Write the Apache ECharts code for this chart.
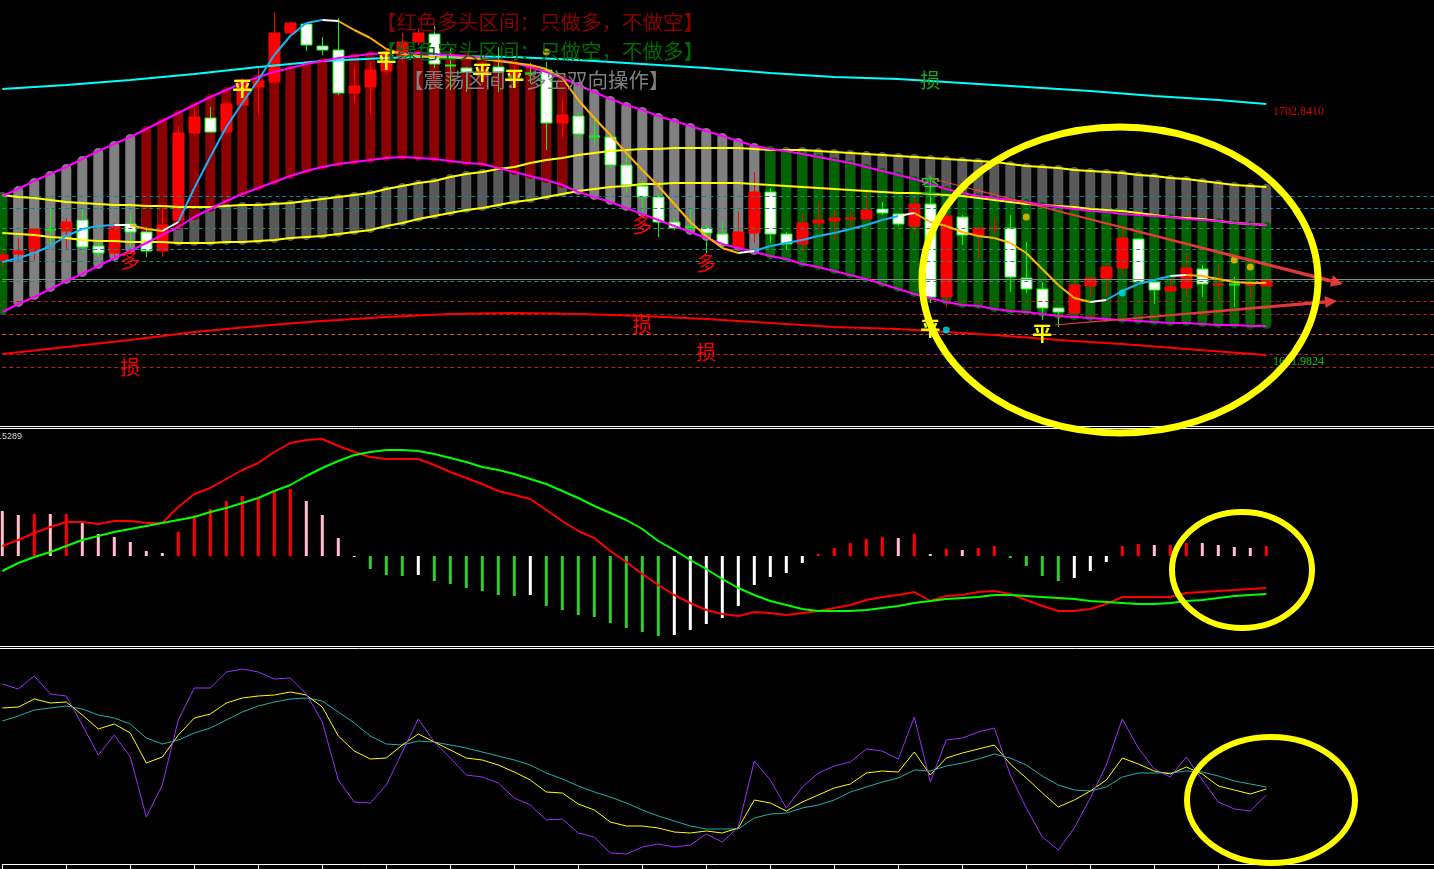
<!DOCTYPE html>
<html><head><meta charset="utf-8">
<script src="https://cdn.jsdelivr.net/npm/echarts@6/dist/echarts.min.js"></script>
<style>html,body{margin:0;padding:0;background:#000;}#c{width:1434px;height:869px;}</style>
</head><body><div id="c"></div>
<script>
// ---------- DATA (prices) ----------
const candles = [ // [open, close, low, high]
[1663,1664.25,1661.25,1665.5],[1664.5,1665.25,1663,1668.5],[1665.25,1670.75,1663,1670.75],[1670.75,1670.5,1666.25,1676.25],
[1670.25,1672.5,1665.5,1673.5],[1673,1666.25,1664.75,1676],[1666.5,1664.75,1663.75,1668],[1664.75,1671.25,1663.75,1672.25],
[1672,1670,1666.25,1674.75],[1670,1665.25,1663.75,1671.25],[1665.25,1671.75,1663.75,1676.75],[1673,1694.75,1672.25,1696.5],
[1694.75,1698.75,1694.25,1701],[1698.5,1695,1694.75,1701.25],[1695,1702,1694.5,1702.5],[1701.75,1708,1701.5,1708.5],
[1706.25,1707.75,1699.25,1711.25],[1707.5,1719.75,1707.5,1725],[1719.75,1722.25,1718.75,1722.5],[1722,1716.75,1715.25,1722],
[1716.5,1715.5,1714.25,1718.75],[1715.5,1704.75,1704.25,1723.5],[1704.75,1706.5,1702.25,1711.25],[1706.25,1710.5,1699.25,1712.5],
[1710.25,1714.75,1709.75,1715.5],[1713.5,1717.5,1712.25,1719.75],[1717.5,1719.75,1716.75,1721],[1719.5,1712,1711,1721.5],
[1711.75,1711.5,1705.5,1716],[1711,1710,1705,1711.25],[1709,1710.5,1706.75,1712.5],[1711.25,1710,1705,1716.25],
[1708.75,1710,1706.75,1711.75],[1709.75,1709.5,1707.25,1712.25],[1710.5,1697.25,1690.5,1712.5],[1697.25,1699.25,1693.75,1703],
[1699,1694.5,1693.25,1700],[1694,1693.75,1691.75,1698],[1693.75,1686.75,1686,1694.75],[1686.75,1681.75,1680,1689.25],
[1681.5,1678.75,1675,1683],[1678.75,1672.5,1668.75,1679.75],[1672.5,1671,1670.5,1673.5],[1671.25,1671,1670.5,1676],
[1671,1669.75,1664.75,1671.75],[1669.5,1666.75,1666.25,1672.5],[1666,1670,1666,1675.25],[1669.75,1680,1667.25,1685],
[1680,1669.5,1667.25,1681],[1669.5,1667,1665.5,1670],[1667,1672.25,1665,1674.5],[1672.25,1673,1670.5,1677.5],
[1672.75,1673.5,1668,1675.5],[1673.25,1673.5,1671,1675],[1673.25,1675.5,1673.25,1680],[1675.75,1674.75,1674.25,1677.5],
[1674.5,1672,1671.5,1674.75],[1671.5,1677,1669.75,1678.75],[1677,1653.75,1652.25,1683],[1653.75,1674,1651,1674.75],
[1673.75,1669.25,1666.75,1674.25],[1669.25,1671,1663,1671.25],[1670.75,1671,1669.25,1673.5],[1671,1658.75,1655,1674.25],
[1658.5,1655.75,1654.75,1667.5],[1655.75,1651,1648,1657.5],[1651,1650,1646.25,1651],[1649.75,1656.75,1649.75,1657.5],
[1656.5,1658.5,1653.75,1658.75],[1658.5,1661.25,1653.75,1662.25],[1661,1668.5,1659.25,1671],[1668.25,1657.5,1657.5,1668.5],
[1657.5,1655.5,1652,1658],[1655.25,1656.25,1655,1658.5],[1656,1661,1653.75,1664.75],[1660.75,1657,1653.75,1661.75],
[1656.75,1657,1653,1661.75],[1657,1656.75,1651.25,1658.75],[1656.75,1657,1653.25,1657.5],[1656.5,1658,1656.5,1658.75]
];
const bandUpper = [1679,1680.75,1682.75,1684.5,1686.25,1688.25,1690.25,1692,1693.75,1695.75,1697.75,1699.75,1701.75,1703.75,1705.5,1707.25,1708.75,1710,1711,1712,
1712.75,1713.5,1714,1714.5,1714.75,1714.75,1714.75,1714.5,1714.25,1714,1713.5,1713,1712.25,1711.25,1710,1708.5,1706.75,1705,1703.25,1701.75,
1700.5,1699,1697.75,1696.5,1695.25,1694,1692.75,1691.5,1690.75,1690.25,1689.5,1688.75,1688,1687.25,1686.25,1685.25,1684.25,1683.25,1682,1680.75,
1679.75,1679,1678.5,1678,1677.5,1676.75,1676.25,1675.75,1675.25,1675,1674.5,1674.25,1674,1673.75,1673.25,1673,1672.75,1672.25,1672,1671.75];
const bandLower = [1650,1652,1653.75,1655.75,1657.75,1659.5,1661.5,1663.5,1665.25,1667.25,1669.25,1671.25,1673.75,1675.75,1677.75,1679.5,1681,1682.5,1684,1685.25,
1686.25,1687,1687.5,1688,1688.5,1688.75,1688.5,1688.25,1687.75,1687.25,1687,1686,1685,1684,1683,1681.75,1680,1678.75,1677.5,1676,
1674.5,1673,1671.5,1670,1668.5,1667,1666,1665,1664,1663.25,1662,1661.25,1660.25,1659.25,1658.25,1657,1655.75,1654.5,1653.5,1652.5,
1651.75,1651.5,1650.75,1650.25,1650,1649.5,1649,1648.75,1648.5,1648.25,1648,1647.75,1647.5,1647.25,1647.25,1647,1646.75,1646.75,1646.5,1646.5];
const envUpper = [1679.25,1678.75,1678.5,1678,1677.5,1677.25,1677,1676.75,1676.75,1676.5,1676.5,1676.25,1676.25,1676.25,1676.5,1676.75,1676.75,1677,1677.25,1677.75,
1678.25,1678.75,1679.25,1679.75,1680.75,1681.5,1682.25,1682.75,1683.75,1684.5,1685,1685.75,1686.25,1687.25,1688,1688.5,1689.25,1689.75,1690.25,1690.5,
1690.75,1690.75,1691,1691,1691,1691,1691,1690.75,1690.5,1690.5,1690.5,1690.25,1690,1689.75,1689.5,1689.25,1689,1688.75,1688.5,1688.25,
1688,1687.75,1687.5,1687,1686.5,1686.25,1686,1685.5,1685.25,1685,1684.75,1684.25,1684,1683.5,1683.25,1682.75,1682.25,1681.75,1681.5,1681.25];
const envLower = [1669.75,1669.5,1669.25,1668.75,1668.5,1668,1667.75,1667.75,1667.5,1667.5,1667.5,1667.25,1667.25,1667.25,1667.5,1667.5,1667.75,1668,1668.5,1668.75,
1669,1669.5,1670,1670.5,1671.5,1672.25,1673.25,1674,1674.75,1675.5,1676,1676.75,1677.5,1678,1678.75,1679.5,1680.25,1680.75,1681.25,1681.5,
1682,1682,1682.25,1682.25,1682.25,1682.25,1682.25,1682,1681.75,1681.5,1681.25,1681,1680.75,1680.5,1680.25,1680,1679.75,1679.75,1679.5,1679.25,
1679,1678.5,1678,1677.5,1677,1676.75,1676.5,1676.25,1675.75,1675.5,1675.25,1674.75,1674.25,1673.75,1673.5,1673.25,1672.75,1672.25,1672,1671.75];
// zone of each bar: g = bear (green), l = range (grey), r = bull (dark red)
const zones = "g" + "llllllll" + "rrrrrrrrrrrrrrrrrrrrrrrrrrr" + "llllllllllll" + "gggggggggggggggggggggggggggggggg";
const fastLine = [1662.5,1663.5,1664.75,1666.5,1669,1670.75,1671.5,1671.75,1671.75,1670.75,1670.25,1672.5,1681,1688.75,1696.25,1702.25,1708,1714.25,1719,1722.25,
1723,1722.75,1720.5,1718.5,1715.75,1714.5,1714,1713.75,1713.5,1713.5,1713.25,1712.75,1712.25,1711.75,1710.75,1708.5,1703,1698.5,1694.25,1689.75,
1685.5,1681.5,1677,1672.5,1669,1666,1664.75,1665.25,1666.5,1667.25,1668,1669,1669.75,1670.75,1671.75,1673,1674,1674.75,1672.5,1671.5,
1670,1669,1668.5,1667.25,1664.75,1660.75,1656.75,1653.5,1652.5,1653,1655.25,1657,1658,1659,1659.25,1659,1658.25,1657.5,1657.25,1657.25];
// colour of the segment ending at each bar: c = rising, w = turning, o = falling
const fastColors = "cccccccc" + "w" + "oo" + "w" + "ccccccccc" + "w" + "ooooooooooooooooooooooooo" + "w" + "ccccccccc" + "w" + "ooooooooooo" + "w" + "cccc" + "w" + "ooooo";
const cyanLine = [[0,1705.75],[4,1706.75],[8,1708],[12,1709.5],[16,1711.25],[20,1712.75],[24,1713.5],[28,1714],[32,1713.75],[36,1713],[40,1712],
[44,1711],[48,1709.75],[52,1708.75],[56,1708.25],[60,1707.25],[64,1706.25],[68,1705.25],[72,1704],[76,1703],[79,1702]];
const redLine = [[0,1639.5],[4,1641.25],[8,1643],[12,1645],[16,1646.5],[20,1647.75],[24,1648.75],[28,1649.5],[32,1649.75],[36,1649.5],[40,1649],
[44,1648.25],[48,1647.25],[52,1646.25],[56,1645.75],[58,1645.25],[62,1644.25],[66,1643],[70,1642],[74,1640.75],[79,1639.25]];
const levels = [[1679,'#0a8c8c','dashed'],[1676,'#0a8c8c','dashed'],[1671,'#2e8b57','dashed'],[1665.75,'#0a8c8c','dashed'],[1662.75,'#0a8c8c','dashed'],
[1658.25,'#8a8a8a','solid'],[1657.75,'#2e8b57','dashed'],[1652.75,'#b22222','dashed'],[1649.5,'#b22222','dashed'],[1644.5,'#cd5a32','dashed'],
[1639.5,'#b22222','dashed'],[1636.25,'#b22222','dashed']];
const markers = [ // [bar, price, text, colour]
[15,1706,'平','#ffff00'],[24,1713,'平','#ffff00'],[30,1710,'平','#ffff00'],[32,1708.5,'平','#ffff00'],[58,1646,'平','#ffff00'],[65,1644.75,'平','#ffff00'],
[8,1663,'多','#ff0000'],[40,1671.75,'多','#ff0000'],[44,1662.25,'多','#ff0000'],
[8,1636.25,'损','#ff0000'],[40,1646.75,'损','#ff0000'],[44,1640,'损','#ff0000'],
[58,1708,'损','#1fa31f'],[58,1681.75,'空','#22cc22']];
const dots = [[34,1715,'#ffc000'],[64,1673.75,'#ffc000'],[77,1663,'#ffc000'],[78,1661.25,'#ffc000'],[59,1645.5,'#00e0ee'],[70,1654.75,'#00e0ee']];
const titleLines = ['【红色多头区间：只做多，不做空】','【绿色空头区间：只做空，不做多】','【震荡区间：多空双向操作】'];
const priceLabels = ['1702.8410','1641.9824'];

const macdHist = [0.45,0.41,0.42,0.42,0.42,0.33,0.22,0.19,0.14,0.05,0.03,0.24,0.41,0.47,0.55,0.60,0.58,0.66,0.67,0.55,
0.41,0.18,-0.01,-0.13,-0.19,-0.20,-0.19,-0.25,-0.28,-0.32,-0.35,-0.39,-0.40,-0.39,-0.50,-0.54,-0.59,-0.61,-0.67,-0.72,
-0.76,-0.80,-0.79,-0.74,-0.68,-0.62,-0.50,-0.29,-0.21,-0.17,-0.07,0.02,0.08,0.13,0.17,0.19,0.18,0.22,0.02,0.07,
0.06,0.08,0.10,-0.02,-0.10,-0.20,-0.25,-0.22,-0.15,-0.06,0.10,0.12,0.11,0.11,0.13,0.13,0.11,0.09,0.08,0.10];
const macdHistColors = "pprpr"+"pppppp"+"rrrrrrrr"+"ppp"+"w"+"gggwggggggw"+"gggggggg"+"wwwwwwwww"+"rrrrr"+"prprprr"+"gggg"+"www"+"rrprr"+"pppp"+"r";
const macdLine = [0.10,0.16,0.23,0.29,0.34,0.34,0.32,0.35,0.35,0.33,0.33,0.49,0.62,0.68,0.77,0.86,0.93,1.04,1.13,1.16,
1.17,1.10,1.04,0.99,0.97,0.97,0.97,0.91,0.84,0.78,0.72,0.65,0.61,0.57,0.46,0.35,0.25,0.18,0.05,-0.06,
-0.18,-0.29,-0.39,-0.47,-0.54,-0.58,-0.60,-0.56,-0.57,-0.59,-0.57,-0.55,-0.52,-0.49,-0.44,-0.41,-0.39,-0.36,-0.45,-0.40,
-0.39,-0.36,-0.35,-0.38,-0.44,-0.50,-0.55,-0.55,-0.53,-0.48,-0.41,-0.41,-0.41,-0.41,-0.37,-0.36,-0.35,-0.34,-0.33,-0.32];
const signalLine = [-0.15,-0.07,-0.01,0.04,0.10,0.16,0.20,0.24,0.27,0.30,0.33,0.36,0.39,0.44,0.48,0.53,0.58,0.65,0.71,0.80,
0.88,0.95,1.01,1.04,1.06,1.06,1.05,1.02,0.98,0.94,0.89,0.86,0.82,0.77,0.72,0.65,0.58,0.50,0.43,0.36,
0.27,0.15,0.06,-0.04,-0.13,-0.23,-0.32,-0.39,-0.45,-0.49,-0.53,-0.55,-0.55,-0.55,-0.54,-0.52,-0.50,-0.47,-0.45,-0.43,
-0.42,-0.41,-0.39,-0.39,-0.40,-0.41,-0.42,-0.43,-0.45,-0.46,-0.47,-0.48,-0.48,-0.47,-0.45,-0.44,-0.42,-0.40,-0.39,-0.38];

const oscFast = [90,87.5,94,85,84,69.5,54.5,64.5,53.5,23.5,39.5,72,88,88,96,97.5,96,92.5,93,85,
71,42,31,30.5,39.5,56,72.5,61,53,44.5,43.5,40.5,33,29.5,22,22.5,15.5,13.5,5.5,5,
8.5,10,8.5,9.5,15,11,18.5,51.5,42,28,38.5,45.5,49,51,57.5,56.5,52.5,73.5,41,62,
63,66,68,44.5,28,13.5,7,18,33,49.5,72.5,58,47.5,43.5,53.5,42,31,27.5,26.5,34.5];
const oscMid = [78,78.5,82.5,80.5,81,74.5,67.5,70,65.5,50.5,53.5,64.5,73,75,80.5,83,84,84.5,86,84.5,
78.5,64,56.5,52.5,53,59.5,65,61,57,53,52,49.5,46,42,36,35.5,30,27,21,19,
19,18,16,15.5,16.5,15.5,18,32,30.5,26.5,31,34.5,38,40,45.5,46.5,46,56,44.5,53,
55.5,57.5,59.5,50,43,35.5,28.5,32,36.5,42,53,50,46.5,45,48.5,45,39,37,35,37.5];
const oscSlow = [71.5,74,77,78,79,77.5,74.5,73,70,63,60,62,65.5,68,72,76,79,81,82.5,83,
81.5,76,70.5,64,60,59.5,61.5,61,59.5,58,56,54,52,49.5,45.5,42.5,39,36,33.5,30.5,
27,24,21.5,19,17.5,17.5,17.5,23,25,25.5,28,29.5,32,36,38.5,41,43,47,46.5,49,
50.5,52.5,55,53,49.5,44,39.5,37,36.5,38.5,43.5,45.5,45.5,45.5,46.5,46,44,41.5,40,38.5];

// ---------- CHART ----------
const SLOTS = 91;
const slotNames = Array.from({length: SLOTS}, (_, i) => 'B' + i);
const zoneFill = {g:'#006400', l:'#808080', r:'#8b0000'};
const fastFill = {c:'#1ab0f5', w:'#ffffff', o:'#ffb400'};
const histFill = {p:'#ffc0cb', r:'#ff0000', g:'#32cd32', w:'#ffffff'};
const CJK = '"Noto Sans CJK SC"';

function xAxisFor(g, show) {
  return {type:'category', gridIndex:g, data:slotNames, boundaryGap:false, show: show,
    axisLine:{show:show, lineStyle:{color:'#ffffff', width:1}},
    axisTick:{show:show, length:5, inside:false, lineStyle:{color:'#ffffff'},
      interval:(idx) => idx % 4 === 0 && idx <= 76},
    axisLabel:{show:false}, splitLine:{show:false}};
}
function yAxisFor(g, min, max) {
  return {type:'value', gridIndex:g, min:min, max:max, show:false, splitLine:{show:false}, scale:true};
}
function lineSeries(data, color, width, xi, z) {
  return {type:'line', data:data, xAxisIndex:xi, yAxisIndex:xi, showSymbol:false, symbol:'none', z:z||5,
    lineStyle:{color:color, width:width}, itemStyle:{color:color}, emphasis:{disabled:true}, silent:true};
}

const idx = candles.map((_, i) => i);

const series = [
  { // dark grey columns between the yellow envelope lines
    type:'custom', xAxisIndex:0, yAxisIndex:0, z:1, silent:true,
    data: idx.map(i => [i, envUpper[i], envLower[i]]),
    renderItem(params, api) {
      const a = api.coord([api.value(0), api.value(1)]);
      const b = api.coord([api.value(0), api.value(2)]);
      return {type:'rect', shape:{x:a[0]-5, y:a[1]-3, width:10, height:b[1]-a[1]+6, r:5}, style:{fill:'#595959'}};
    }
  },
  { // zone columns between the magenta band lines
    type:'custom', xAxisIndex:0, yAxisIndex:0, z:2, silent:true,
    data: idx.map(i => [i, bandUpper[i], bandLower[i]]),
    renderItem(params, api) {
      const i = params.dataIndex;
      const a = api.coord([api.value(0), api.value(1)]);
      const b = api.coord([api.value(0), api.value(2)]);
      return {type:'rect', shape:{x:a[0]-5, y:a[1]-3, width:10, height:b[1]-a[1]+6, r:5}, style:{fill:zoneFill[zones[i]]}};
    }
  },
  { // horizontal price levels
    type:'line', xAxisIndex:0, yAxisIndex:0, z:3, data: idx.map(() => null), showSymbol:false, silent:true,
    markLine:{silent:true, symbol:'none', label:{show:false}, animation:false,
      data: levels.map(l => ({yAxis:l[0], lineStyle:{color:l[1], type: l[2] === 'solid' ? 'solid' : [4,3], width:1}}))}
  },
  { // candlesticks
    type:'custom', xAxisIndex:0, yAxisIndex:0, z:4, silent:true,
    data: candles.map((c, i) => [i, c[0], c[1], c[2], c[3]]),
    renderItem(params, api) {
      const x = api.value(0), o = api.value(1), c = api.value(2), l = api.value(3), h = api.value(4);
      const pO = api.coord([x, o]), pC = api.coord([x, c]), pL = api.coord([x, l]), pH = api.coord([x, h]);
      const up = c >= o;
      const col = up ? '#ff0000' : '#00ff00';
      const cx = Math.round(pO[0]) + 0.5;
      const top = Math.min(pO[1], pC[1]), bot = Math.max(pO[1], pC[1]);
      const kids = [{type:'line', shape:{x1:cx, y1:pH[1], x2:cx, y2:pL[1]}, style:{stroke:col, lineWidth:1}}];
      if (bot - top < 2) {
        kids.push({type:'rect', shape:{x:cx-5.5, y:(top+bot)/2-1, width:11, height:2}, style:{fill:col}});
      } else {
        kids.push({type:'rect', shape:{x:cx-5.5, y:top, width:11, height:bot-top},
          style:{fill: up ? '#ff0000' : '#ffffff', stroke: col, lineWidth:1}});
      }
      return {type:'group', children:kids};
    }
  },
  lineSeries(cyanLine, '#00ffff', 2, 0, 5),
  lineSeries(redLine, '#ff0000', 2, 0, 5),
  lineSeries(envUpper, '#ffff00', 2, 0, 5),
  lineSeries(envLower, '#ffff00', 2, 0, 5),
  lineSeries(bandUpper, '#ff00ff', 2, 0, 5),
  lineSeries(bandLower, '#ff00ff', 2, 0, 5),
  { // colour-changing fast average
    type:'custom', xAxisIndex:0, yAxisIndex:0, z:6, silent:true,
    data: fastLine.map((v, i) => [i, v]),
    renderItem(params, api) {
      const i = params.dataIndex;
      if (i === 0) return null;
      const a = api.coord([i - 1, fastLine[i - 1]]);
      const b = api.coord([i, fastLine[i]]);
      return {type:'line', shape:{x1:a[0], y1:a[1], x2:b[0], y2:b[1]}, style:{stroke:fastFill[fastColors[i]], lineWidth:2}};
    }
  },
  { // signal dots
    type:'scatter', xAxisIndex:0, yAxisIndex:0, z:7, silent:true, symbolSize:7,
    data: dots.map(d => ({value:[d[0], d[1]], itemStyle:{color:d[2]}}))
  },
  { // text markers
    type:'custom', xAxisIndex:0, yAxisIndex:0, z:8, silent:true,
    data: markers.map(m => [m[0], m[1]]),
    renderItem(params, api) {
      const m = markers[params.dataIndex];
      const p = api.coord([m[0], m[1]]);
      const bold = m[2] === '平';
      return {type:'text', x:p[0], y:p[1],
        style:{text:m[2], fill:m[3], font:(bold ? 'bold ' : '') + '20px ' + CJK, align:'center', verticalAlign:'middle',
          textAlign:'center', textVerticalAlign:'middle'}};
    }
  },
  // ---- MACD pane ----
  {
    type:'bar', xAxisIndex:1, yAxisIndex:1, barWidth:3, silent:true, z:3,
    data: macdHist.map((v, i) => ({value:v, itemStyle:{color:histFill[macdHistColors[i]]}}))
  },
  lineSeries(macdLine, '#ff0000', 2, 1, 5),
  lineSeries(signalLine, '#00ff00', 2, 1, 5),
  // ---- oscillator pane ----
  lineSeries(oscSlow, '#20b2aa', 1, 2, 5),
  lineSeries(oscMid, '#ffff00', 1, 2, 6),
  lineSeries(oscFast, '#9b30ff', 1, 2, 7)
];

function txt(x, y, text, fill, font, align) {
  return {type:'text', x:x, y:y, z:50, silent:true,
    style:{text:text, fill:fill, font:font, align:align||'left', verticalAlign:'middle', textAlign:align||'left', textVerticalAlign:'middle'}};
}
function hline(y) {
  return {type:'line', z:40, silent:true, shape:{x1:0, y1:y, x2:1434, y2:y}, style:{stroke:'#ffffff', lineWidth:1}};
}
function ellipse(cx, cy, rx, ry, w) {
  return {type:'ellipse', z:60, silent:true, shape:{cx:cx, cy:cy, rx:rx, ry:ry}, style:{fill:null, stroke:'#ffff00', lineWidth:w}};
}
function arrow(sx, sy, tx, ty) {
  const dx = tx - sx, dy = ty - sy, L = Math.hypot(dx, dy);
  const ux = dx / L, uy = dy / L, nx = -uy, ny = ux;
  const bx = tx - 12 * ux, by = ty - 12 * uy;
  const shaft = [[sx + 0.6*nx, sy + 0.6*ny], [bx + 1.8*nx, by + 1.8*ny], [bx - 1.8*nx, by - 1.8*ny], [sx - 0.6*nx, sy - 0.6*ny]];
  const head = [[bx + 6*nx, by + 6*ny], [tx, ty], [bx - 6*nx, by - 6*ny]];
  return [
    {type:'polygon', z:55, silent:true, shape:{points:shaft}, style:{fill:'rgba(245,60,60,0.92)'}},
    {type:'polygon', z:55, silent:true, shape:{points:head}, style:{fill:'rgba(245,60,60,0.92)'}}
  ];
}

const graphics = [
  hline(426.5), hline(428.5), hline(646.5), hline(648.5),
  txt(376, 22, titleLines[0], '#8b0000', '20.5px ' + CJK),
  txt(376, 51, titleLines[1], '#006a00', '20.5px ' + CJK),
  txt(403, 80, titleLines[2], '#808080', '20.5px ' + CJK),
  txt(1273, 112, priceLabels[0], '#e00000', '12px "Liberation Serif"'),
  txt(1273, 362, priceLabels[1], '#10c010', '12px "Liberation Serif"'),
  txt(22, 437, '1.5289', '#d8d8d8', '9px "Liberation Sans"', 'right'),
  ...arrow(933, 179, 1343, 284),
  ...arrow(1055, 325, 1337, 301),
  ellipse(1120, 280, 198, 153, 7),
  ellipse(1242, 570, 70, 58, 6),
  ellipse(1271, 800, 84, 63, 6)
];

const chart = echarts.init(document.getElementById('c'), null, {renderer:'canvas'});
chart.setOption({
  animation:false,
  backgroundColor:'#000000',
  grid:[
    {left:2.3, width:1440, top:0, height:426, outerBoundsMode:'none', containLabel:false},
    {left:2.3, width:1440, top:428, height:218, outerBoundsMode:'none', containLabel:false},
    {left:2.3, width:1440, top:648, height:216, outerBoundsMode:'none', containLabel:false}
  ],
  xAxis:[xAxisFor(0, false), xAxisFor(1, false), xAxisFor(2, true)],
  yAxis:[yAxisFor(0, 1621.5, 1728), yAxisFor(1, -0.90, 1.28), yAxisFor(2, 0, 108)],
  series: series,
  graphic: {elements: graphics}
});
</script></body></html>
